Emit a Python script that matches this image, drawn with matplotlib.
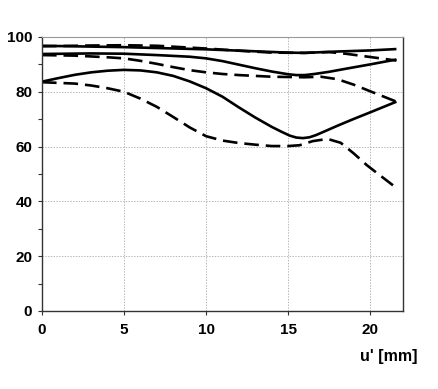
import matplotlib
matplotlib.use("Agg")
import matplotlib.pyplot as plt
from matplotlib.ticker import MultipleLocator

plt.rcParams['font.family'] = ['Liberation Sans', 'DejaVu Sans']
plt.rcParams['lines.scale_dashes'] = False

# Data
s1_x = [0, 5, 10, 12.5, 15, 16, 18, 20, 21.6]
s1_y = [96.8, 96.3, 95.5, 94.9, 94.3, 94.2, 94.7, 95.1, 95.6]

d1_x = [0, 3, 5, 7, 10, 12, 14, 16, 17.5, 18.5, 19.5, 20.5, 21.6]
d1_y = [96.6, 96.9, 97.0, 96.8, 95.8, 95.0, 94.3, 94.2, 94.5, 93.9, 93.1, 92.3, 91.4]

s2_x = [0, 3, 5, 7, 9, 10, 11, 12, 13, 14, 15, 15.5, 16, 16.6, 17.5, 18.5, 20, 21.6]
s2_y = [93.8, 94.0, 93.9, 93.4, 92.8, 92.2, 91.2, 89.9, 88.6, 87.4, 86.4, 86.1, 86.1, 86.5, 87.3, 88.4, 90.0, 91.8]

d2_x = [0, 2, 4, 5, 6, 7, 8, 9, 10, 11, 12, 13, 14, 15, 16, 17, 18, 19, 20, 21.6]
d2_y = [93.4, 93.2, 92.6, 92.2, 91.3, 90.2, 89.0, 87.9, 87.1, 86.5, 86.1, 85.8, 85.5, 85.4, 85.3, 85.5, 84.6, 82.6, 80.2, 76.4]

s3_x = [0, 1, 2, 3, 4, 5, 6, 7, 8, 9, 10, 11, 12, 13, 14, 14.6, 15.1, 15.5, 15.9, 16.3, 16.7, 17.2, 18, 19, 20, 21.6]
s3_y = [83.7, 85.0, 86.2, 87.1, 87.7, 88.0, 87.8, 87.1, 85.8, 83.8, 81.3, 78.2, 74.3, 70.6, 67.2, 65.4, 64.0, 63.3, 63.1, 63.4, 64.2, 65.5, 67.6, 70.1, 72.5, 76.4]

d3_x = [0, 2, 3, 4, 5, 6, 7, 8, 9, 10, 11, 12, 13, 14, 15, 15.7, 16.5, 17.4, 18.2, 19, 19.8, 20.6, 21.6]
d3_y = [83.5, 83.0, 82.3, 81.3, 80.0, 77.5, 74.5, 70.8, 67.0, 63.8, 62.2, 61.3, 60.7, 60.2, 60.2, 60.5, 62.0, 62.8, 61.4, 57.5, 53.2, 49.5, 44.9]

x_ticks = [0, 5, 10, 15, 20]
y_ticks = [0, 20, 40, 60, 80, 100]
x_label = "u' [mm]"

fig = plt.figure(figsize=(4.38, 3.89), dpi=100)
ax = fig.add_axes([42 / 438, 1 - 311 / 389, (403 - 42) / 438, (311 - 37) / 389])

lw = 1.9
dash = (10.5, 5.0)
for xs, ys in [(s1_x, s1_y), (s2_x, s2_y), (s3_x, s3_y)]:
    ax.plot(xs, ys, color='black', lw=lw, solid_capstyle='butt', solid_joinstyle='round')
for xs, ys in [(d1_x, d1_y), (d2_x, d2_y), (d3_x, d3_y)]:
    ax.plot(xs, ys, color='black', lw=lw, dashes=dash, dash_capstyle='butt')

ax.set_xlim(0, 22)
ax.set_ylim(0, 100)
ax.set_xticks(x_ticks)
ax.set_yticks(y_ticks)
ax.yaxis.set_minor_locator(MultipleLocator(10))
ax.grid(True, which='major', color='#aaaaaa', linestyle=(0, (1, 1)), linewidth=0.6)
ax.set_axisbelow(True)

for side in ['left', 'bottom', 'right']:
    ax.spines[side].set_color('#333333')
    ax.spines[side].set_linewidth(1.0)
ax.spines['top'].set_color('#999999')
ax.spines['top'].set_linewidth(0.8)

ax.tick_params(axis='both', which='major', length=3, width=0.8, color='#333333',
               labelsize=11, pad=4)
ax.tick_params(axis='x', pad=6)
ax.tick_params(axis='y', which='minor', length=3, width=0.8, color='#333333')
for lab in ax.get_xticklabels() + ax.get_yticklabels():
    lab.set_fontweight('bold')

fig.text(417 / 438, 1 - 356 / 389, x_label, ha='right', va='center',
         fontsize=11.5, fontweight='bold')

fig.savefig('out.png', dpi=100)
